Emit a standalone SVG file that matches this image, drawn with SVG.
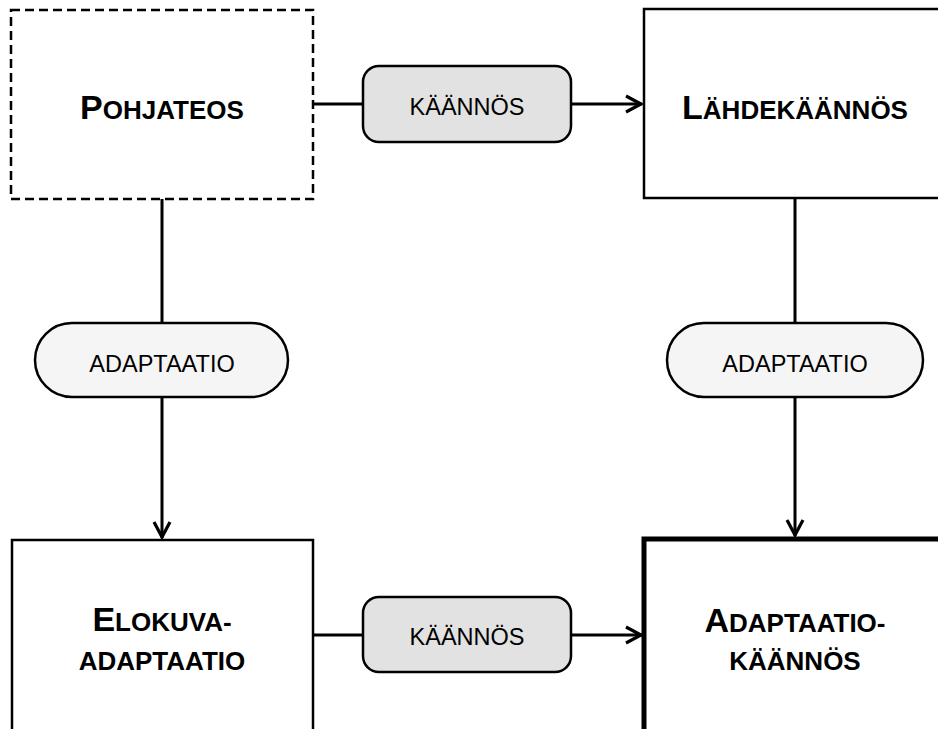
<svg xmlns="http://www.w3.org/2000/svg" width="938" height="729" viewBox="0 0 938 729">
<style>
.box{fill:#ffffff;stroke:#000;stroke-width:2.5}
.dash{stroke-dasharray:9 5}
.thick{stroke-width:5}
.title{font-family:"Liberation Sans",Arial,sans-serif;font-weight:bold;font-size:26px;text-anchor:middle;fill:#000}
.big{font-size:34px}
.lbl{font-family:"Liberation Sans",Arial,sans-serif;font-size:23.5px;text-anchor:middle;fill:#000}
.pillK{fill:#e2e2e2;stroke:#000;stroke-width:2.5}
.pillA{fill:#f5f5f5;stroke:#000;stroke-width:2.5}
.conn{stroke:#000;stroke-width:3;fill:none}
</style>
<defs>
<marker id="arr" markerUnits="userSpaceOnUse" markerWidth="22" markerHeight="22" viewBox="0 0 22 22" refX="19" refY="11" orient="auto">
<path d="M3,3 L18,11 L3,19" fill="none" stroke="#000" stroke-width="3.2"/>
</marker>
</defs>
<rect width="938" height="729" fill="#fff"/>
<g id="connectors">
<line class="conn" x1="313" y1="104" x2="642" y2="104" marker-end="url(#arr)"/>
<line class="conn" x1="162" y1="199" x2="162" y2="538" marker-end="url(#arr)"/>
<line class="conn" x1="795" y1="198" x2="795" y2="536" marker-end="url(#arr)"/>
<line class="conn" x1="313" y1="635" x2="642" y2="635" marker-end="url(#arr)"/>
</g>
<g id="pohjateos">
<rect class="box dash" x="11" y="10" width="302" height="189"/>
<text class="title" x="162" y="119"><tspan class="big">P</tspan>OHJATEOS</text>
</g>
<g id="lahdekaannos">
<rect class="box" x="644" y="9" width="310" height="189"/>
<text class="title" x="795" y="119"><tspan class="big">L</tspan>ÄHDEKÄÄNNÖS</text>
</g>
<g id="elokuva-adaptaatio">
<rect class="box" x="12" y="540" width="301" height="200"/>
<text class="title" x="162" y="631"><tspan class="big">E</tspan>LOKUVA-</text>
<text class="title" x="162" y="670">ADAPTAATIO</text>
</g>
<g id="adaptaatiokaannos">
<rect class="box thick" x="644" y="539" width="310" height="200"/>
<text class="title" x="795" y="632"><tspan class="big">A</tspan>DAPTAATIO-</text>
<text class="title" x="795" y="670">KÄÄNNÖS</text>
</g>
<g id="kaannos-top">
<rect class="pillK" x="363" y="66" width="208" height="76" rx="16"/>
<text class="lbl" x="467" y="115">KÄÄNNÖS</text>
</g>
<g id="kaannos-bottom">
<rect class="pillK" x="363" y="597" width="208" height="75" rx="16"/>
<text class="lbl" x="467" y="645">KÄÄNNÖS</text>
</g>
<g id="adaptaatio-left">
<rect class="pillA" x="35" y="323" width="253" height="74" rx="37"/>
<text class="lbl" x="162" y="372">ADAPTAATIO</text>
</g>
<g id="adaptaatio-right">
<rect class="pillA" x="667" y="323" width="256" height="74" rx="37"/>
<text class="lbl" x="795" y="372">ADAPTAATIO</text>
</g>
</svg>
